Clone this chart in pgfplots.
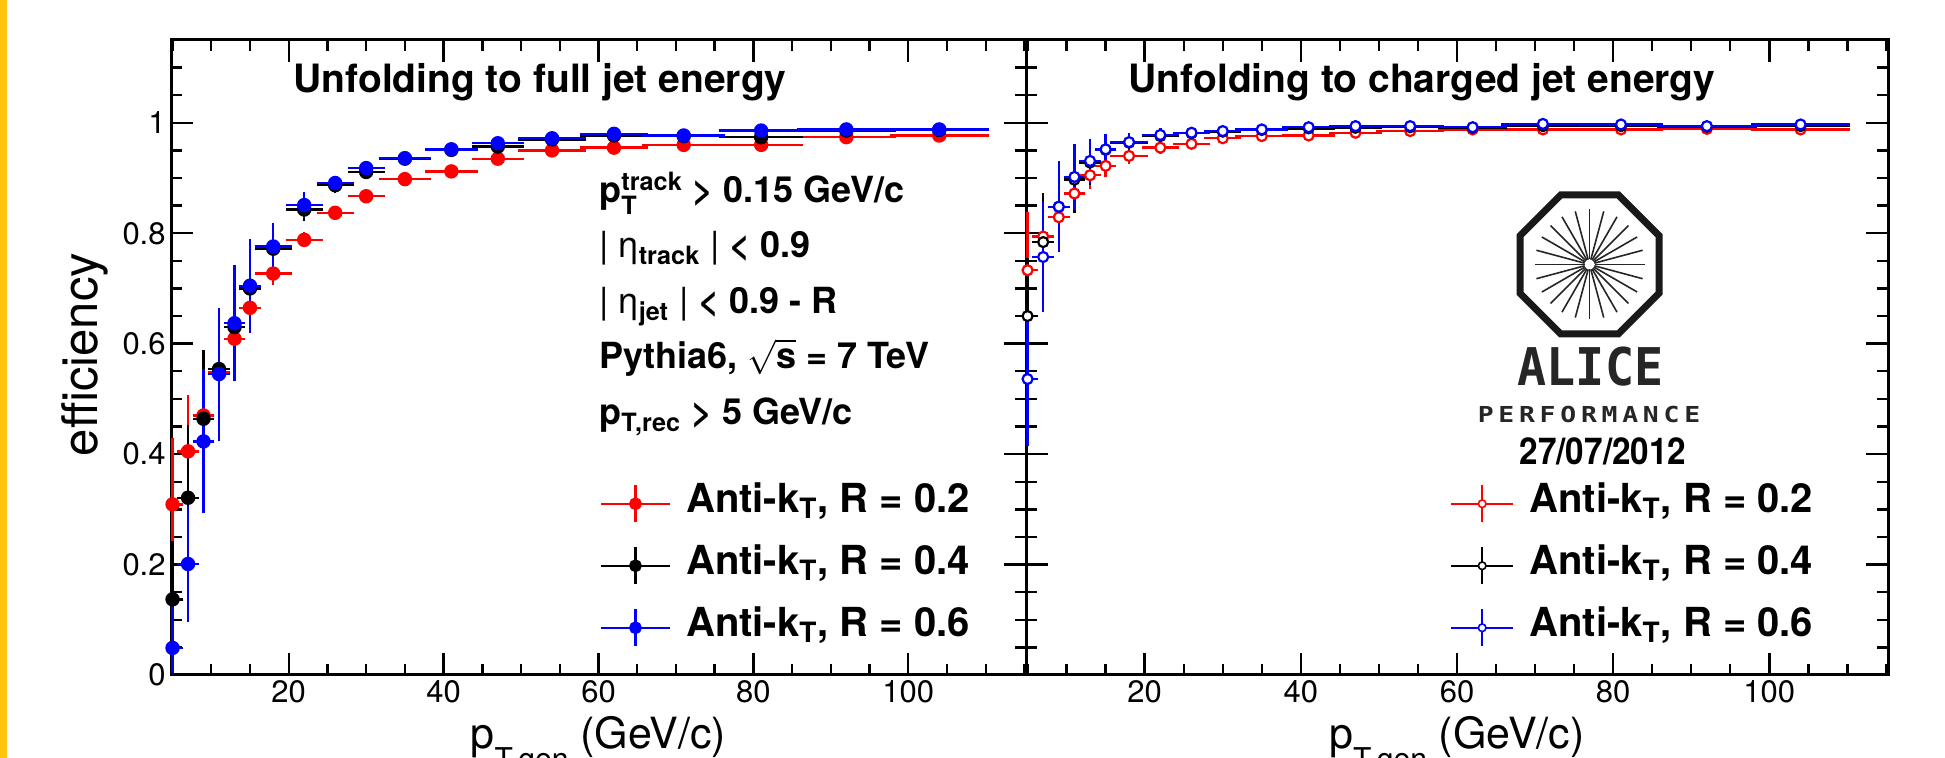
\documentclass[border=0pt]{standalone}
\usepackage{fontspec}
\usepackage{amsmath}
\usepackage{pgfplots}
\usepackage{pgfplotstable}
\pgfplotsset{compat=1.18}
\setmainfont{TeX Gyre Heros}
\newfontfamily\alicefont{DejaVu Sans Mono}
\definecolor{stripcol}{RGB}{255,196,12}

% full jets (left)
\pgfplotstableread{
x ex y ep em
5 1 0.309 0.115 0.115
7 1 0.405 0.096 0.096
9 1 0.470 0.070 0.070
11 1 0.548 0.055 0.055
13 1 0.609 0.040 0.040
15 1 0.665 0.028 0.028
18 2 0.727 0.015 0.015
22 2 0.788 0.008 0.008
26 2 0.837 0.005 0.005
30 2 0.867 0.004 0.004
35 3 0.898 0.003 0.003
41 3 0.912 0.003 0.003
47 3 0.935 0.003 0.003
54 4 0.950 0.002 0.002
62 4 0.955 0.002 0.002
71 5 0.960 0.002 0.002
81 5 0.960 0.002 0.002
92 6 0.974 0.002 0.002
104 6 0.977 0.002 0.002
}\fullA
\pgfplotstableread{
x ex y ep em
5 1 0.137 0.100 0.100
7 1 0.321 0.127 0.127
9 1 0.464 0.120 0.120
11 1 0.554 0.100 0.100
13 1 0.630 0.075 0.075
15 1 0.700 0.065 0.065
18 2 0.772 0.030 0.030
22 2 0.843 0.015 0.015
26 2 0.887 0.008 0.008
30 2 0.911 0.005 0.005
35 3 0.935 0.004 0.004
41 3 0.951 0.003 0.003
47 3 0.957 0.003 0.003
54 4 0.970 0.002 0.002
62 4 0.977 0.002 0.002
71 5 0.976 0.002 0.002
81 5 0.974 0.002 0.002
92 6 0.986 0.002 0.002
104 6 0.987 0.002 0.002
}\fullB
\pgfplotstableread{
x ex y ep em
5 1 0.049 0.088 0.040
7 1 0.201 0.100 0.100
9 1 0.423 0.125 0.125
11 1 0.545 0.115 0.115
13 1 0.637 0.100 0.100
15 1 0.705 0.080 0.080
18 2 0.776 0.037 0.037
22 2 0.851 0.018 0.018
26 2 0.891 0.008 0.008
30 2 0.918 0.005 0.005
35 3 0.936 0.004 0.004
41 3 0.952 0.003 0.003
47 3 0.963 0.003 0.003
54 4 0.972 0.002 0.002
62 4 0.980 0.002 0.002
71 5 0.977 0.002 0.002
81 5 0.986 0.002 0.002
92 6 0.988 0.002 0.002
104 6 0.988 0.002 0.002
}\fullC
% charged jets (right)
\pgfplotstableread{
x ex y ep em
5 1 0.733 0.100 0.100
7 1 0.794 0.070 0.070
9 1 0.829 0.047 0.047
11 1 0.872 0.030 0.030
13 1 0.905 0.020 0.020
15 1 0.922 0.015 0.015
18 2 0.940 0.010 0.010
22 2 0.955 0.006 0.006
26 2 0.962 0.004 0.004
30 2 0.972 0.003 0.003
35 3 0.976 0.003 0.003
41 3 0.977 0.002 0.002
47 3 0.982 0.002 0.002
54 4 0.985 0.002 0.002
62 4 0.988 0.002 0.002
71 5 0.988 0.002 0.002
81 5 0.988 0.002 0.002
92 6 0.989 0.002 0.002
104 6 0.988 0.002 0.002
}\chA
\pgfplotstableread{
x ex y ep em
5 1 0.650 0.100 0.100
7 1 0.784 0.083 0.083
9 1 0.848 0.062 0.062
11 1 0.897 0.055 0.055
13 1 0.928 0.035 0.035
15 1 0.951 0.022 0.022
18 2 0.964 0.012 0.012
22 2 0.976 0.007 0.007
26 2 0.981 0.005 0.005
30 2 0.984 0.004 0.004
35 3 0.987 0.003 0.003
41 3 0.990 0.002 0.002
47 3 0.991 0.002 0.002
54 4 0.992 0.002 0.002
62 4 0.991 0.002 0.002
71 5 0.994 0.002 0.002
81 5 0.994 0.002 0.002
92 6 0.993 0.002 0.002
104 6 0.994 0.002 0.002
}\chB
\pgfplotstableread{
x ex y ep em
5 1 0.536 0.115 0.115
7 1 0.757 0.095 0.095
9 1 0.848 0.077 0.077
11 1 0.902 0.055 0.055
13 1 0.931 0.035 0.035
15 1 0.952 0.022 0.022
18 2 0.965 0.012 0.012
22 2 0.978 0.007 0.007
26 2 0.982 0.005 0.005
30 2 0.985 0.004 0.004
35 3 0.988 0.003 0.003
41 3 0.992 0.002 0.002
47 3 0.994 0.002 0.002
54 4 0.994 0.002 0.002
62 4 0.992 0.002 0.002
71 5 0.998 0.002 0.002
81 5 0.997 0.002 0.002
92 6 0.994 0.002 0.002
104 6 0.997 0.002 0.002
}\chC

\pgfplotsset{
  panel/.style={
    scale only axis, height=317.5pt,
    xmin=4.8, xmax=115.2, ymin=0, ymax=1.15,
    xtick={20,40,60,80,100},
    minor xtick={5,10,15,25,30,35,45,50,55,65,70,75,85,90,95,105,110,115},
    ytick={0,0.2,0.4,0.6,0.8,1},
    minor ytick={0.05,0.1,0.15,0.25,0.3,0.35,0.45,0.5,0.55,0.65,0.7,0.75,0.85,0.9,0.95,1.05,1.1},
    major tick length=11pt, minor tick length=5.5pt,
    axis line style={line width=1.5pt},
    every tick/.style={line width=1.2pt, black},
    tick label style={font=\fontsize{15.5}{16}\selectfont, inner sep=2.5pt},
    /pgf/number format/assume math mode=true,
    xlabel={p\raisebox{-10.5pt}{\fontsize{15}{15}\selectfont T,gen} (GeV/c)},
    xlabel style={font=\fontsize{21.5}{21.5}\selectfont, at={(axis description cs:0.5,-0.116)}, anchor=base},
    legend cell align=left,
    legend style={draw=none, fill=none, inner sep=0pt, row sep=11.3pt, column sep=7.5pt,
      font=\bfseries\fontsize{20}{20}\selectfont,
      nodes={inner sep=0pt, text height=14pt, text depth=5pt}},
  },
  eb/.style={only marks, line width=1.2pt,
    /pgfplots/error bars/x dir=both, /pgfplots/error bars/x explicit,
    /pgfplots/error bars/y dir=both, /pgfplots/error bars/y explicit,
    /pgfplots/error bars/error bar style={line width=1.2pt},
    /pgfplots/error bars/error mark options={mark size=1.5pt, line width=1.2pt}},
  legcross/.style={legend image code/.code={
    \draw[#1,line width=1.2pt] (0pt,0pt) -- (34.5pt,0pt);
    \draw[#1,line width=1.2pt] (17.25pt,-9.25pt) -- (17.25pt,9.25pt);
    \fill[#1] (17.25pt,0pt) circle (2.6pt);}},
  legcrossopen/.style={legend image code/.code={
    \draw[#1,line width=1.2pt] (0pt,0pt) -- (31pt,0pt);
    \draw[#1,line width=1.2pt] (15.5pt,-9.25pt) -- (15.5pt,9.25pt);
    \filldraw[draw=#1,fill=white,line width=0.8pt] (15.5pt,0pt) circle (1.9pt);}},
}

\begin{document}
\begin{tikzpicture}
\fill[stripcol] (0,0) rectangle (3.4pt,379pt);

% ---------- left panel ----------
\begin{axis}[panel, width=427.5pt, at={(85.5pt,41.5pt)}, anchor=south west,
  legend style={at={(axis description cs:0.501,0.172)}, anchor=west}]
\addplot[red, mark=*, mark size=3pt, legcross=red, eb]
  table[x=x, y=y, x error=ex, y error plus=ep, y error minus=em]{\fullA};
\addlegendentry{Anti-k$_{\text{T}}$, R = 0.2}
\addplot[black, mark=*, mark size=3pt, legcross=black, eb]
  table[x=x, y=y, x error=ex, y error plus=ep, y error minus=em]{\fullB};
\addlegendentry{Anti-k$_{\text{T}}$, R = 0.4}
\addplot[blue, mark=*, mark size=3pt, legcross=blue, eb]
  table[x=x, y=y, x error=ex, y error plus=ep, y error minus=em]{\fullC};
\addlegendentry{Anti-k$_{\text{T}}$, R = 0.6}
\end{axis}

% ---------- right panel ----------
\begin{axis}[panel, width=431pt, at={(513pt,41.5pt)}, anchor=south west,
  yticklabels={},
  legend style={at={(axis description cs:0.4914,0.172)}, anchor=west}]
\addplot[red, mark=*, mark size=2.5pt, mark options={fill=white, draw=red, line width=1.1pt}, legcrossopen=red, eb]
  table[x=x, y=y, x error=ex, y error plus=ep, y error minus=em]{\chA};
\addlegendentry{Anti-k$_{\text{T}}$, R = 0.2}
\addplot[black, mark=*, mark size=2.5pt, mark options={fill=white, draw=black, line width=1.1pt}, legcrossopen=black, eb]
  table[x=x, y=y, x error=ex, y error plus=ep, y error minus=em]{\chB};
\addlegendentry{Anti-k$_{\text{T}}$, R = 0.4}
\addplot[blue, mark=*, mark size=2.5pt, mark options={fill=white, draw=blue, line width=1.1pt}, legcrossopen=blue, eb]
  table[x=x, y=y, x error=ex, y error plus=ep, y error minus=em]{\chC};
\addlegendentry{Anti-k$_{\text{T}}$, R = 0.6}
\end{axis}

% y axis title
\node[rotate=90, anchor=base, inner sep=0pt, font=\fontsize{24.5}{24.5}\selectfont] at (48.5pt,201.75pt) {efficiency};

% titles
\node[anchor=base, font=\bfseries\fontsize{19.5}{20}\selectfont] at (270pt,332.5pt) {Unfolding to full jet energy};
\node[anchor=base, font=\bfseries\fontsize{19.5}{20}\selectfont] at (711pt,332.5pt) {Unfolding to charged jet energy};

% info text
\begin{scope}[every node/.style={anchor=base west, inner sep=0pt, font=\bfseries\fontsize{18}{18}\selectfont}]
\node at (299.5pt,277.5pt) {p$^{\text{track}}_{\text{T}}$ > 0.15 GeV/c};
\node at (299.5pt,250pt) {\textmd{| η}$_{\text{track}}$ \textmd{|} < 0.9};
\node at (299.5pt,222pt) {\textmd{| η}$_{\text{jet}}$ \textmd{|} < 0.9 - R};
\node at (299.5pt,194.5pt) {Pythia6, $\sqrt{\text{s}}$ = 7 TeV};
\node at (299.5pt,166.5pt) {p$_{\text{T,rec}}$ > 5 GeV/c};
\end{scope}

% ALICE logo
\begin{scope}[shift={(794.75pt,246.75pt)}]
\draw[line width=3.5pt, black!90, line join=miter]
  (22.5:37.61pt) -- (67.5:37.61pt) -- (112.5:37.61pt) -- (157.5:37.61pt) -- (202.5:37.61pt)
  -- (247.5:37.61pt) -- (292.5:37.61pt) -- (337.5:37.61pt) -- cycle;
\foreach \a in {0,15,...,345} {
  \draw[line width=0.8pt, black!85] (\a:2.5pt) -- (\a:27.5pt);
}
\end{scope}
\node[anchor=base, inner sep=0pt, xscale=0.93, text=black!85, font=\alicefont\bfseries\fontsize{26}{26}\selectfont] at (795.25pt,186pt) {ALICE};
\node[anchor=base, inner sep=0pt, xscale=1.2, text=black!85, font=\alicefont\bfseries\fontsize{11}{11}\selectfont\addfontfeature{LetterSpace=18}] at (794.5pt,167.5pt) {PERFORMANCE};
\node[anchor=base, inner sep=0pt, xscale=0.9, font=\bfseries\fontsize{18.5}{18.5}\selectfont] at (801.5pt,146.5pt) {27/07/2012};

\pgfresetboundingbox
\useasboundingbox (0,0) rectangle (972.5pt,379pt);
\end{tikzpicture}
\end{document}
